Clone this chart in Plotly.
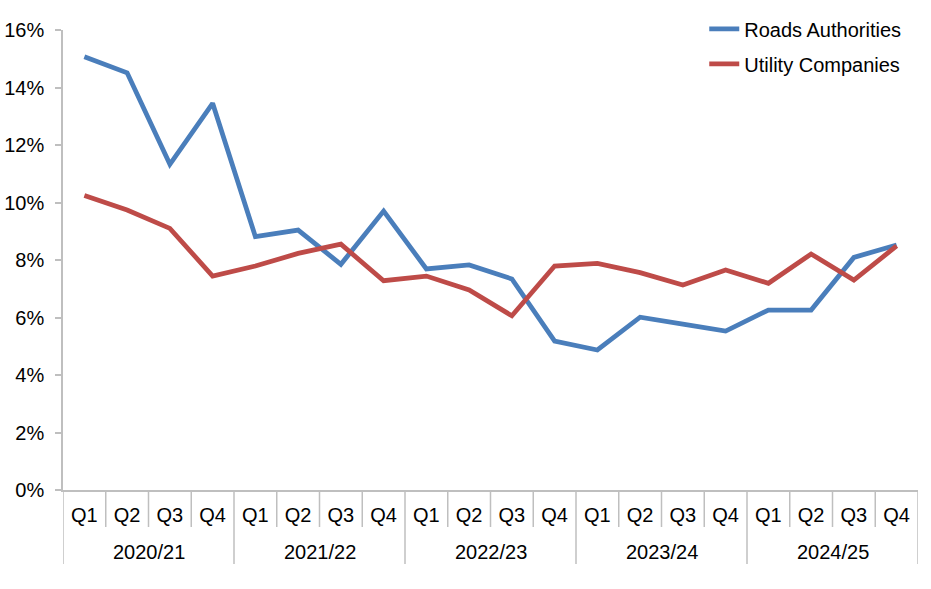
import plotly.graph_objects as go

years = ["2020/21", "2021/22", "2022/23", "2023/24", "2024/25"]
quarters = ["Q1", "Q2", "Q3", "Q4"]

roads = [15.07, 14.51, 11.33, 13.45, 8.81, 9.04, 7.85, 9.70, 7.69, 7.83,
         7.34, 5.18, 4.87, 6.01, 5.77, 5.53, 6.26, 6.26, 8.09, 8.52]
utility = [10.24, 9.74, 9.10, 7.44, 7.79, 8.23, 8.55, 7.28, 7.44, 6.96,
           6.06, 7.79, 7.88, 7.56, 7.13, 7.65, 7.19, 8.21, 7.30, 8.49]

yticks = [0, 2, 4, 6, 8, 10, 12, 14, 16]
ytext = [f"{v}%" for v in yticks]

categories = [f"{y} {q}" for y in years for q in quarters]
qlabels = [q for y in years for q in quarters]

AXIS = "#BFBFBF"
font = dict(family="Liberation Sans, Arial, sans-serif", size=20, color="#000000")

PLOT_H = 589 - 30 - 99
SHORT = 37 / PLOT_H
LONG = 74 / PLOT_H

fig = go.Figure()
fig.add_trace(go.Scatter(x=categories, y=roads, mode="lines",
                         name="Roads Authorities", legendgroup="a",
                         line=dict(color="#4A7EBB", width=4.75)))
fig.add_trace(go.Scatter(x=categories, y=utility, mode="lines",
                         name="Utility Companies", legendgroup="b",
                         line=dict(color="#BE4B48", width=4.75)))

nq = len(quarters)
n = len(categories)
shapes = []
for k in range(n + 1):
    pos = k - 0.5
    is_year = (k % nq == 0)
    shapes.append(dict(type="line", xref="x", yref="paper",
                       x0=pos, x1=pos, y0=0, y1=-(LONG if is_year else SHORT),
                       line=dict(color=AXIS, width=1.5)))

annotations = []
for i, y in enumerate(years):
    annotations.append(dict(text=y, xref="x", yref="paper",
                            x=i * nq + (nq - 1) / 2, y=-(552 - 490) / PLOT_H,
                            xanchor="center", yanchor="middle",
                            showarrow=False, font=font))

fig.update_layout(
    width=931, height=589,
    margin=dict(l=63, r=13, t=30, b=99, autoexpand=False),
    paper_bgcolor="white", plot_bgcolor="white",
    font=font,
    showlegend=True,
    legend=dict(x=0.750, y=1.045, xanchor="left", yanchor="top",
                bgcolor="rgba(0,0,0,0)", font=font, tracegroupgap=6),
    xaxis=dict(type="category", range=[-0.5, n - 0.5],
               tickvals=categories, ticktext=qlabels,
               showline=True, linecolor=AXIS, linewidth=1.5,
               ticks="", ticklabelstandoff=6,
               showgrid=False, tickfont=font),
    yaxis=dict(range=[0, 16], tickvals=yticks, ticktext=ytext,
               showline=True, linecolor=AXIS, linewidth=1.5,
               ticks="outside", ticklen=6, tickcolor=AXIS, tickwidth=1.5,
               ticklabelstandoff=7,
               showgrid=False, zeroline=False, tickfont=font),
    shapes=shapes,
    annotations=annotations,
)

fig.write_html("out.html", config={"displayModeBar": False},
               post_script="document.body.style.margin='0';document.body.style.overflow='hidden';")
